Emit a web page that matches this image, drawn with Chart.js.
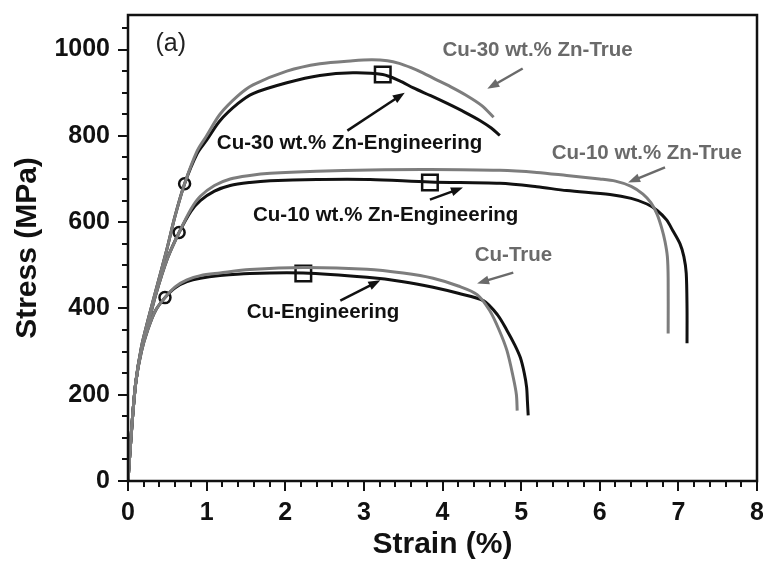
<!DOCTYPE html>
<html>
<head>
<meta charset="utf-8">
<script src="https://cdn.jsdelivr.net/npm/chart.js@4.4.1/dist/chart.umd.min.js"></script>
<style>
    html, body { margin: 0; padding: 0; background: #fff; }
</style>
</head>
<body>
<canvas id="myChart" width="763" height="567"></canvas>
<script>
// stress-strain curves, strain in %, stress in MPa
const cu30EngStrain = [0, 0.05, 0.1, 0.17, 0.25, 0.33, 0.49, 0.6, 0.72, 0.88, 1.0, 1.17, 1.4, 1.59, 2.02, 2.44, 2.86, 3.24, 3.45, 3.63, 3.85, 4.06, 4.28, 4.48, 4.62, 4.73];
const cu30EngStress = [0, 130, 230, 310, 370, 425, 534, 615, 689, 759, 790, 835, 875, 898, 923, 940, 946, 942, 928, 911, 893, 875, 855, 835, 818, 801];

const cu30TrueStrain = [0, 0.05, 0.1, 0.17, 0.25, 0.33, 0.49, 0.6, 0.72, 0.88, 1.0, 1.17, 1.4, 1.59, 2.02, 2.44, 2.86, 3.1, 3.3, 3.45, 3.6, 3.75, 3.9, 4.1, 4.3, 4.5, 4.65];
const cu30TrueStress = [0, 130, 230, 310, 370, 425, 534, 615, 689, 765, 800, 850, 893, 918, 950, 967, 974, 976, 974, 968, 958, 946, 932, 914, 894, 870, 843];

const cu10EngStrain = [0, 0.05, 0.1, 0.17, 0.25, 0.35, 0.5, 0.65, 0.8, 0.92, 1.1, 1.3, 1.55, 1.81, 2.4, 3.08, 3.84, 4.73, 5.2, 5.58, 6.13, 6.4, 6.6, 6.73, 6.85, 6.93, 7.02, 7.07, 7.1, 7.11, 7.11];
const cu10EngStress = [0, 130, 230, 305, 360, 430, 515, 576, 625, 650, 672, 685, 692, 696, 699, 699, 693, 690, 682, 673, 664, 655, 642, 627, 605, 580, 550, 520, 481, 400, 319];

const cu10TrueStrain = [0, 0.05, 0.1, 0.17, 0.25, 0.35, 0.5, 0.65, 0.8, 0.92, 1.1, 1.3, 1.55, 1.81, 2.4, 3.08, 3.84, 4.73, 5.2, 5.58, 6.0, 6.2, 6.4, 6.55, 6.65, 6.73, 6.79, 6.83, 6.86, 6.87, 6.87];
const cu10TrueStress = [0, 130, 230, 305, 360, 430, 515, 576, 630, 660, 685, 700, 708, 713, 718, 721, 722, 720, 715, 708, 700, 695, 683, 665, 645, 618, 585, 555, 520, 470, 342];

const cuEngStrain = [0, 0.05, 0.1, 0.17, 0.25, 0.35, 0.47, 0.6, 0.75, 0.92, 1.17, 1.55, 2.23, 3.04, 3.5, 3.88, 4.2, 4.52, 4.7, 4.82, 4.92, 4.99, 5.04, 5.07, 5.08, 5.09];
const cuEngStress = [0, 130, 230, 300, 350, 395, 425, 448, 462, 470, 476, 481, 482, 472, 462, 449, 435, 418, 385, 349, 315, 286, 250, 217, 185, 152];

const cuTrueStrain = [0, 0.05, 0.1, 0.17, 0.25, 0.35, 0.47, 0.6, 0.75, 0.92, 1.17, 1.55, 2.23, 3.04, 3.5, 3.88, 4.2, 4.44, 4.6, 4.72, 4.82, 4.9, 4.94, 4.95];
const cuTrueStress = [0, 130, 230, 300, 350, 395, 425, 450, 466, 476, 482, 490, 495, 491, 482, 470, 452, 432, 395, 350, 302, 240, 200, 163];

// yield points (circles) and ultimate strength (squares)
const yieldStrain = [0.72, 0.65, 0.47];
const yieldStress = [689, 576, 425];
const utsStrain = [3.24, 3.84, 2.23];
const utsStress = [942, 692, 481];

const xTicks = [0, 1, 2, 3, 4, 5, 6, 7, 8];
const yTicks = [0, 200, 400, 600, 800, 1000];

const FONT = "'Liberation Sans', Arial, Helvetica, sans-serif";
const GRAY = '#7d7d7d';
const BLACK = '#111111';

const notes = [
    { text: '(a)', x: 0.35, y: 1013, color: '#222', bold: false, size: 25 },
    { text: 'Cu-30 wt.% Zn-True', x: 4.0, y: 998, color: '#6a6a6a', bold: true, size: 20.5 },
    { text: 'Cu-30 wt.% Zn-Engineering', x: 1.13, y: 782, color: BLACK, bold: true, size: 20.5 },
    { text: 'Cu-10 wt.% Zn-True', x: 5.39, y: 759, color: '#6a6a6a', bold: true, size: 20.5 },
    { text: 'Cu-10 wt.% Zn-Engineering', x: 1.59, y: 615, color: BLACK, bold: true, size: 20.5 },
    { text: 'Cu-True', x: 4.41, y: 522, color: '#6a6a6a', bold: true, size: 20.5 },
    { text: 'Cu-Engineering', x: 1.51, y: 390, color: BLACK, bold: true, size: 20.5 }
];

// arrows: tail -> head, in data units
const arrows = [
    { x0: 5.02, y0: 956, x1: 4.57, y1: 909, color: '#6a6a6a' },
    { x0: 2.79, y0: 812, x1: 3.52, y1: 900, color: BLACK },
    { x0: 6.83, y0: 727, x1: 6.36, y1: 692, color: '#6a6a6a' },
    { x0: 3.84, y0: 652, x1: 4.26, y1: 680, color: BLACK },
    { x0: 4.90, y0: 483, x1: 4.44, y1: 458, color: '#6a6a6a' },
    { x0: 2.70, y0: 418, x1: 3.21, y1: 465, color: BLACK }
];

const toPoints = (xs, ys) => xs.map((x, i) => ({ x: x, y: ys[i] }));

const isWhole = (v) => Math.abs(v - Math.round(v)) < 1e-6;

function curve(label, xs, ys, color) {
    return {
        label: label,
        data: toPoints(xs, ys),
        borderColor: color,
        borderWidth: 3,
        pointRadius: 0,
        tension: 0.3,
        fill: false
    };
}

function markers(label, xs, ys, style, radius) {
    return {
        label: label,
        data: toPoints(xs, ys),
        showLine: false,
        pointStyle: style,
        pointRadius: radius,
        pointBorderWidth: 2.5,
        pointBorderColor: BLACK,
        pointBackgroundColor: '#ffffff'
    };
}

const frameAndNotes = {
    id: 'frameAndNotes',
    afterDraw(chart) {
        const ctx = chart.ctx;
        const a = chart.chartArea;
        const x = chart.scales.x;
        const y = chart.scales.y;
        ctx.save();
        ctx.strokeStyle = BLACK;
        ctx.lineCap = 'butt';

        // tick marks, long on labelled values
        ctx.lineWidth = 2;
        ctx.beginPath();
        x.ticks.forEach((t) => {
            const px = Math.round(x.getPixelForValue(t.value));
            const len = isWhole(t.value) ? 10 : 6;
            ctx.moveTo(px, a.bottom);
            ctx.lineTo(px, a.bottom + len);
        });
        y.ticks.forEach((t) => {
            const py = Math.round(y.getPixelForValue(t.value));
            const len = yTicks.includes(t.value) ? 10 : 6;
            ctx.moveTo(a.left, py);
            ctx.lineTo(a.left - len, py);
        });
        ctx.stroke();

        ctx.lineWidth = 2.5;
        ctx.strokeRect(a.left, a.top, a.right - a.left, a.bottom - a.top);

        arrows.forEach((ar) => {
            const x0 = x.getPixelForValue(ar.x0);
            const y0 = y.getPixelForValue(ar.y0);
            const x1 = x.getPixelForValue(ar.x1);
            const y1 = y.getPixelForValue(ar.y1);
            const ang = Math.atan2(y1 - y0, x1 - x0);
            const head = 12;
            ctx.strokeStyle = ar.color;
            ctx.fillStyle = ar.color;
            ctx.lineWidth = 2.5;
            ctx.beginPath();
            ctx.moveTo(x0, y0);
            ctx.lineTo(x1 - Math.cos(ang) * head * 0.8, y1 - Math.sin(ang) * head * 0.8);
            ctx.stroke();
            ctx.beginPath();
            ctx.moveTo(x1, y1);
            ctx.lineTo(x1 - head * Math.cos(ang) + 4.5 * Math.sin(ang), y1 - head * Math.sin(ang) - 4.5 * Math.cos(ang));
            ctx.lineTo(x1 - head * Math.cos(ang) - 4.5 * Math.sin(ang), y1 - head * Math.sin(ang) + 4.5 * Math.cos(ang));
            ctx.closePath();
            ctx.fill();
        });

        ctx.textAlign = 'left';
        ctx.textBaseline = 'middle';
        notes.forEach((n) => {
            ctx.fillStyle = n.color;
            ctx.font = (n.bold ? 'bold ' : '') + n.size + 'px ' + FONT;
            ctx.fillText(n.text, x.getPixelForValue(n.x), y.getPixelForValue(n.y));
        });
        ctx.restore();
    }
};

const ctx = document.getElementById('myChart');
const myChart = new Chart(ctx, { // eslint-disable-line
    type: 'line',
    data: {
        datasets: [
            curve('Cu-30 wt.% Zn-True', cu30TrueStrain, cu30TrueStress, GRAY),
            curve('Cu-10 wt.% Zn-True', cu10TrueStrain, cu10TrueStress, GRAY),
            curve('Cu-True', cuTrueStrain, cuTrueStress, GRAY),
            curve('Cu-30 wt.% Zn-Engineering', cu30EngStrain, cu30EngStress, BLACK),
            curve('Cu-10 wt.% Zn-Engineering', cu10EngStrain, cu10EngStress, BLACK),
            curve('Cu-Engineering', cuEngStrain, cuEngStress, BLACK),
            markers('Yield', yieldStrain, yieldStress, 'circle', 5.5),
            markers('UTS', utsStrain, utsStress, 'rect', 11)
        ]
    },
    options: {
        responsive: false,
        animation: false,
        layout: { autoPadding: false, padding: { top: 15, right: 6, left: 0, bottom: 0 } },
        plugins: {
            legend: { display: false },
            tooltip: { enabled: false }
        },
        scales: {
            x: {
                type: 'linear',
                min: 0,
                max: 8,
                afterFit: (s) => {
                    s.height = 86;
                    s.paddingLeft = 0;
                    s.paddingRight = 0;
                },
                grid: { display: false, drawTicks: false },
                border: { display: false },
                ticks: {
                    stepSize: 0.2,
                    autoSkip: false,
                    maxRotation: 0,
                    includeBounds: false,
                    padding: 17,
                    color: BLACK,
                    font: { family: FONT, size: 25, weight: 'bold' },
                    callback: (v) => (isWhole(v) && xTicks.includes(Math.round(v)) ? String(Math.round(v)) : '')
                },
                title: {
                    display: true,
                    text: 'Strain (%)',
                    color: BLACK,
                    font: { family: FONT, size: 30, weight: 'bold' },
                    padding: { top: 0, bottom: 4 }
                }
            },
            y: {
                min: 0,
                max: 1080,
                afterFit: (s) => {
                    s.width = 128;
                    s.paddingTop = 0;
                    s.paddingBottom = 0;
                },
                grid: { display: false, drawTicks: false },
                border: { display: false },
                ticks: {
                    stepSize: 50,
                    autoSkip: false,
                    includeBounds: false,
                    padding: 18,
                    color: BLACK,
                    font: { family: FONT, size: 25, weight: 'bold' },
                    callback: (v) => (yTicks.includes(v) ? String(v) : '')
                },
                title: {
                    display: true,
                    text: 'Stress (MPa)',
                    color: BLACK,
                    font: { family: FONT, size: 30, weight: 'bold' },
                    padding: { top: 10, bottom: 0 }
                }
            }
        }
    },
    plugins: [frameAndNotes]
});
</script>
</body>
</html>
